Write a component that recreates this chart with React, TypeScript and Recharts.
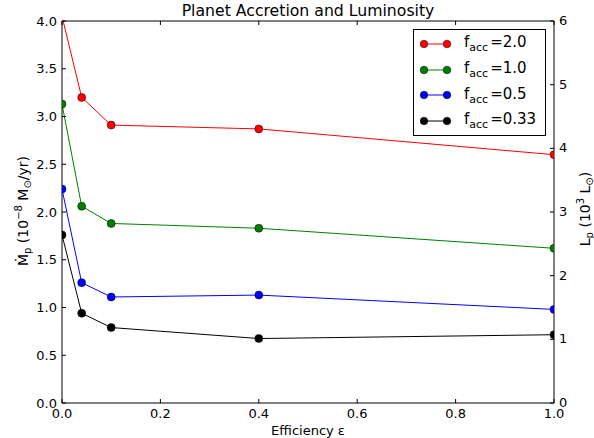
import React from "react";
import { LineChart, Line, XAxis, YAxis, Legend } from "recharts";

// efficiency values (x) and accretion rates for each f_acc run
const efficiency = [0, 0.04, 0.1, 0.4, 1.0];
const facc20 = [4.05, 3.2, 2.91, 2.87, 2.6];
const facc10 = [3.13, 2.06, 1.88, 1.83, 1.62];
const facc05 = [2.24, 1.26, 1.11, 1.13, 0.98];
const facc033 = [1.76, 0.94, 0.79, 0.675, 0.715];

const xTicks = [0, 0.2, 0.4, 0.6, 0.8, 1.0];
const leftTicks = [0, 0.5, 1.0, 1.5, 2.0, 2.5, 3.0, 3.5, 4.0];
const rightTicks = [0, 1, 2, 3, 4, 5, 6];

const series = [
  { key: "f20", label: "2.0", color: "#ff0000", values: facc20 },
  { key: "f10", label: "1.0", color: "#008000", values: facc10 },
  { key: "f05", label: "0.5", color: "#0000ff", values: facc05 },
  { key: "f033", label: "0.33", color: "#000000", values: facc033 },
];

const data = efficiency.map((e, i) => {
  const row: Record<string, number> = { e };
  series.forEach((s) => (row[s.key] = s.values[i]));
  return row;
});

const W = 594;
const H = 438;
const M = { top: 20, right: 39, bottom: 34, left: 61 };
// plot box (each axis is 1px thick)
const PLOT = {
  x: M.left + 1,
  y: M.top + 1,
  w: W - M.left - M.right - 2,
  h: H - M.top - M.bottom - 2,
};

const FONT = "DejaVu Sans, sans-serif";
const TICK = 4;
const MARGIN = 5;

const LeftTick = (p: any) => {
  const spine = p.x + MARGIN;
  return (
    <g>
      <line x1={spine} x2={spine + TICK} y1={p.y} y2={p.y} stroke="#000" />
      <text x={p.x} y={p.y} dy="0.36em" textAnchor="end" fontSize={13} fontFamily={FONT} fill="#000">
        {p.payload.value.toFixed(1)}
      </text>
    </g>
  );
};

const RightTick = (p: any) => {
  const spine = p.x - MARGIN;
  return (
    <g>
      <line x1={spine} x2={spine - TICK} y1={p.y} y2={p.y} stroke="#000" />
      <text x={p.x} y={p.y} dy="0.3em" textAnchor="start" fontSize={13} fontFamily={FONT} fill="#000">
        {p.payload.value}
      </text>
    </g>
  );
};

const BottomTick = (p: any) => {
  const spine = p.y - MARGIN;
  return (
    <g>
      <line x1={p.x} x2={p.x} y1={spine} y2={spine - TICK} stroke="#000" />
      <text x={p.x} y={p.y} dy="0.74em" textAnchor="middle" fontSize={13} fontFamily={FONT} fill="#000">
        {p.payload.value.toFixed(1)}
      </text>
    </g>
  );
};

const TopTick = (p: any) => {
  const spine = p.y + MARGIN;
  return <line x1={p.x} x2={p.x} y1={spine} y2={spine + TICK} stroke="#000" />;
};

// markers are cut at the frame like the lines
const makeDot = (color: string) => (p: any) => (
  <circle
    key={`dot-${p.index}`}
    cx={p.cx}
    cy={p.cy}
    r={4}
    fill={color}
    stroke="#000"
    strokeWidth={0.5}
    clipPath="url(#plot-clip)"
  />
);

const LegendBox = () => (
  <div
    style={{
      border: "1px solid #000",
      background: "#fff",
      width: 133,
      height: 107,
      boxSizing: "border-box",
      paddingTop: 1,
      fontFamily: FONT,
    }}
  >
    {series.map((s) => (
      <div key={s.key} style={{ display: "flex", alignItems: "center", height: 25.7 }}>
        <svg width={32} height={12} style={{ marginLeft: 6, flexShrink: 0 }}>
          <line x1={4} x2={27} y1={6} y2={6} stroke={s.color} strokeWidth={1} />
          <circle cx={4} cy={6} r={3.8} fill={s.color} stroke="#000" strokeWidth={0.5} />
          <circle cx={27} cy={6} r={3.8} fill={s.color} stroke="#000" strokeWidth={0.5} />
        </svg>
        <span style={{ marginLeft: 12, fontSize: 15, color: "#000", whiteSpace: "nowrap" }}>
          f<sub style={{ fontSize: 11, verticalAlign: -4 }}>acc</sub>
          <span style={{ marginLeft: 2 }}>={s.label}</span>
        </span>
      </div>
    ))}
  </div>
);

export default function App() {
  return (
    <div style={{ position: "absolute", left: 0, top: 0, background: "#fff" }}>
      <LineChart width={W} height={H} data={data} margin={M}>
        <defs>
          <clipPath id="plot-clip">
            <rect x={PLOT.x} y={PLOT.y} width={PLOT.w} height={PLOT.h} />
          </clipPath>
        </defs>
        <XAxis
          dataKey="e"
          type="number"
          domain={[0, 1]}
          ticks={xTicks}
          allowDataOverflow
          height={1}
          tickSize={0}
          tickMargin={MARGIN}
          tick={<BottomTick />}
          axisLine={{ stroke: "#000" }}
          tickLine={false}
        />
        <XAxis
          xAxisId="top"
          orientation="top"
          dataKey="e"
          type="number"
          domain={[0, 1]}
          ticks={xTicks}
          allowDataOverflow
          includeHidden
          height={1}
          tickSize={0}
          tickMargin={MARGIN}
          tick={<TopTick />}
          axisLine={{ stroke: "#000" }}
          tickLine={false}
        />
        <YAxis
          type="number"
          domain={[0, 4]}
          ticks={leftTicks}
          allowDataOverflow
          width={1}
          tickSize={0}
          tickMargin={MARGIN}
          tick={<LeftTick />}
          axisLine={{ stroke: "#000" }}
          tickLine={false}
        />
        <YAxis
          yAxisId="right"
          orientation="right"
          type="number"
          domain={[0, 6]}
          ticks={rightTicks}
          allowDataOverflow
          includeHidden
          width={1}
          tickSize={0}
          tickMargin={MARGIN}
          tick={<RightTick />}
          axisLine={{ stroke: "#000" }}
          tickLine={false}
        />
        {/* hidden series so the top and right axes get ticks */}
        <Line dataKey="f20" xAxisId="top" yAxisId="right" hide isAnimationActive={false} />
        {series.map((s) => (
          <Line
            key={s.key}
            dataKey={s.key}
            stroke={s.color}
            strokeWidth={1}
            dot={makeDot(s.color)}
            activeDot={false}
            isAnimationActive={false}
          />
        ))}
        <Legend
          layout="horizontal"
          verticalAlign="middle"
          align="center"
          content={<LegendBox />}
          wrapperStyle={{ top: 29, left: 413, width: 133, height: 107 }}
        />

        <text x={308} y={16} textAnchor="middle" fontSize={15.7} fontFamily={FONT} fill="#000">
          Planet Accretion and Luminosity
        </text>
        <text x={308} y={435} textAnchor="middle" fontSize={13} fontFamily={FONT} fill="#000">
          Efficiency ε
        </text>
        <text
          transform="translate(28 211) rotate(-90)"
          textAnchor="middle"
          fontSize={14}
          fontFamily={FONT}
          fill="#000"
        >
          <tspan>{"\u1E40"}</tspan>
          <tspan fontSize={10} dy={3}>p</tspan>
          <tspan dy={-3}>{" (10"}</tspan>
          <tspan fontSize={10} dy={-6}>{"\u22128"}</tspan>
          <tspan dy={6}>{" M"}</tspan>
          <tspan fontSize={10} dy={3}>{"\u2299"}</tspan>
          <tspan dy={-3}>/yr)</tspan>
        </text>
        <text
          transform="translate(590 209) rotate(-90)"
          textAnchor="middle"
          fontSize={14}
          fontFamily={FONT}
          fill="#000"
        >
          <tspan>L</tspan>
          <tspan fontSize={10} dy={3}>p</tspan>
          <tspan dy={-3}>{" (10"}</tspan>
          <tspan fontSize={10} dy={-6}>3</tspan>
          <tspan dy={6}>{" L"}</tspan>
          <tspan fontSize={10} dy={3}>{"\u2299"}</tspan>
          <tspan dy={-3}>)</tspan>
        </text>
      </LineChart>
    </div>
  );
}
